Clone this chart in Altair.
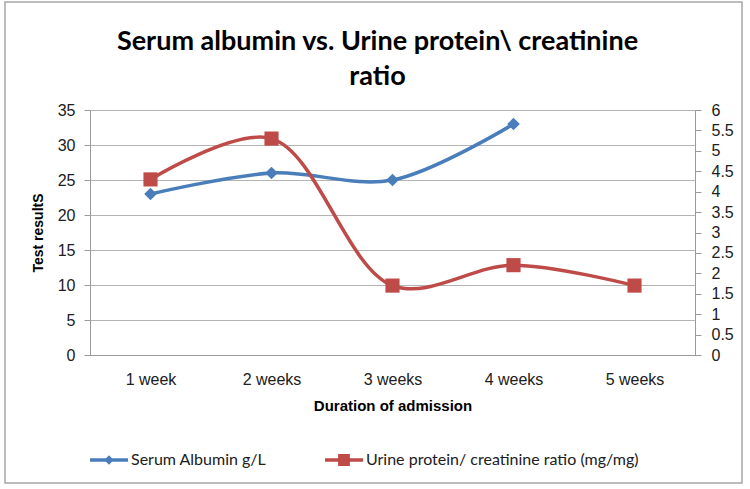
import altair as alt
import pandas as pd

# Categories and series values
weeks = ["1 week", "2 weeks", "3 weeks", "4 weeks", "5 weeks"]
albumin = [23, 26, 25, 33, None]          # Serum Albumin g/L (left axis)
upcr = [4.3, 5.3, 1.7, 2.2, 1.7]           # Urine protein/creatinine ratio (right axis)
series_names = ["Serum Albumin g/L", "Urine protein/ creatinine ratio (mg/mg)"]

BLUE = "#4a7ebb"
RED = "#be4b48"
FONT = "Lato"
W, H = 605, 245

df_alb = pd.DataFrame({"week": weeks, "value": albumin}).dropna()
df_upcr = pd.DataFrame({"week": weeks, "value": upcr})
df_legend = pd.DataFrame({"week": weeks[:2], "value": upcr[:2], "series": series_names})

x_enc = alt.X(
    "week:N",
    sort=weeks,
    scale=alt.Scale(type="point", padding=0.5),
    axis=alt.Axis(
        title="Duration of admission",
        titleFontSize=15,
        titleFontWeight="bold",
        titleColor="#000000",
        titlePadding=11,
        labelFontSize=16,
        labelColor="#202020",
        labelPadding=16,
        labelAngle=0,
        ticks=False,
        domainColor="#9a9a9a",
        grid=False,
    ),
)

left_y = alt.Y(
    "value:Q",
    scale=alt.Scale(domain=[0, 35], nice=False),
    axis=alt.Axis(
        title="Test resultS",
        titleFontSize=14,
        titleFontWeight="bold",
        titleColor="#000000",
        titlePadding=12,
        values=list(range(0, 36, 5)),
        labelFontSize=16,
        labelColor="#202020",
        labelPadding=9,
        tickSize=6,
        tickColor="#9a9a9a",
        domainColor="#9a9a9a",
        gridColor="#b4b4b4",
        gridWidth=1.2,
    ),
)

right_y = alt.Y(
    "value:Q",
    scale=alt.Scale(domain=[0, 6], nice=False),
    axis=alt.Axis(
        orient="right",
        title=None,
        values=[i * 0.5 for i in range(13)],
        format="~g",
        labelFontSize=16,
        labelColor="#202020",
        labelPadding=10,
        tickSize=6,
        tickColor="#9a9a9a",
        domainColor="#9a9a9a",
        grid=False,
    ),
)

alb_line = alt.Chart(df_alb).mark_line(
    color=BLUE, strokeWidth=3.5, interpolate="catmull-rom"
).encode(x=x_enc, y=left_y)
alb_pts = alt.Chart(df_alb).mark_point(
    shape="diamond", filled=True, color=BLUE, opacity=1, size=160
).encode(x=x_enc, y=left_y)

upcr_line = alt.Chart(df_upcr).mark_line(
    color=RED, strokeWidth=3.5, interpolate="catmull-rom"
).encode(x=x_enc, y=right_y)
upcr_pts = alt.Chart(df_upcr).mark_point(
    shape="square", filled=True, color=RED, opacity=1, size=200
).encode(x=x_enc, y=right_y)

# Legend entries: line segment with the series marker through the middle
blue_sym = "M-1,-0.09H1V0.09H-1Z M0,-0.25L0.25,0L0,0.25L-0.25,0Z"
red_sym = "M-1,-0.09H1V0.09H-1Z M-0.31,-0.31H0.31V0.31H-0.31Z"

legend_layer = alt.Chart(df_legend).mark_point(filled=True, size=0, opacity=1).encode(
    x=x_enc,
    y=right_y,
    color=alt.Color(
        "series:N",
        sort=series_names,
        scale=alt.Scale(domain=series_names, range=[BLUE, RED]),
        legend=alt.Legend(
            orient="bottom",
            direction="horizontal",
            title=None,
            labelFontSize=16,
            labelColor="#202020",
            labelFont=FONT,
            labelLimit=0,
            labelOffset=3,
            symbolSize=1444,
            symbolOpacity=1,
            symbolStrokeWidth=0,
            columnPadding=58,
            offset=28,
        ),
    ),
    shape=alt.Shape(
        "series:N",
        sort=series_names,
        scale=alt.Scale(domain=series_names, range=[blue_sym, red_sym]),
    ),
)

# Outer chart-area frame
frame = alt.Chart(pd.DataFrame({"k": [0]})).mark_rect(
    fill=None, stroke="#a6a6a6", strokeWidth=1.5
).encode(
    x=alt.value(-85), x2=alt.value(W + 47),
    y=alt.value(-108), y2=alt.value(H + 128),
)

left_layer = alt.layer(alb_line, alb_pts)
right_layer = alt.layer(upcr_line, upcr_pts, legend_layer)

chart = (
    alt.layer(frame, left_layer, right_layer)
    .resolve_scale(y="independent")
    .properties(
        width=W,
        height=H,
        title=alt.Title(
            text=["Serum albumin vs. Urine protein\\ creatinine", "ratio"],
            fontSize=27,
            fontWeight="bold",
            font=FONT,
            color="#000000",
            anchor="middle",
            dx=-15,
            lineHeight=35,
            offset=-90,
        ),
        padding={"left": 90, "top": 110, "right": 55, "bottom": 134},
        autosize=alt.AutoSizeParams(type="none"),
    )
    .configure_view(stroke=None)
    .configure_axis(labelFont=FONT, titleFont=FONT)
    .configure(background="#ffffff")
)

chart.save("out.html", embed_options={"renderer": "svg", "actions": False})
